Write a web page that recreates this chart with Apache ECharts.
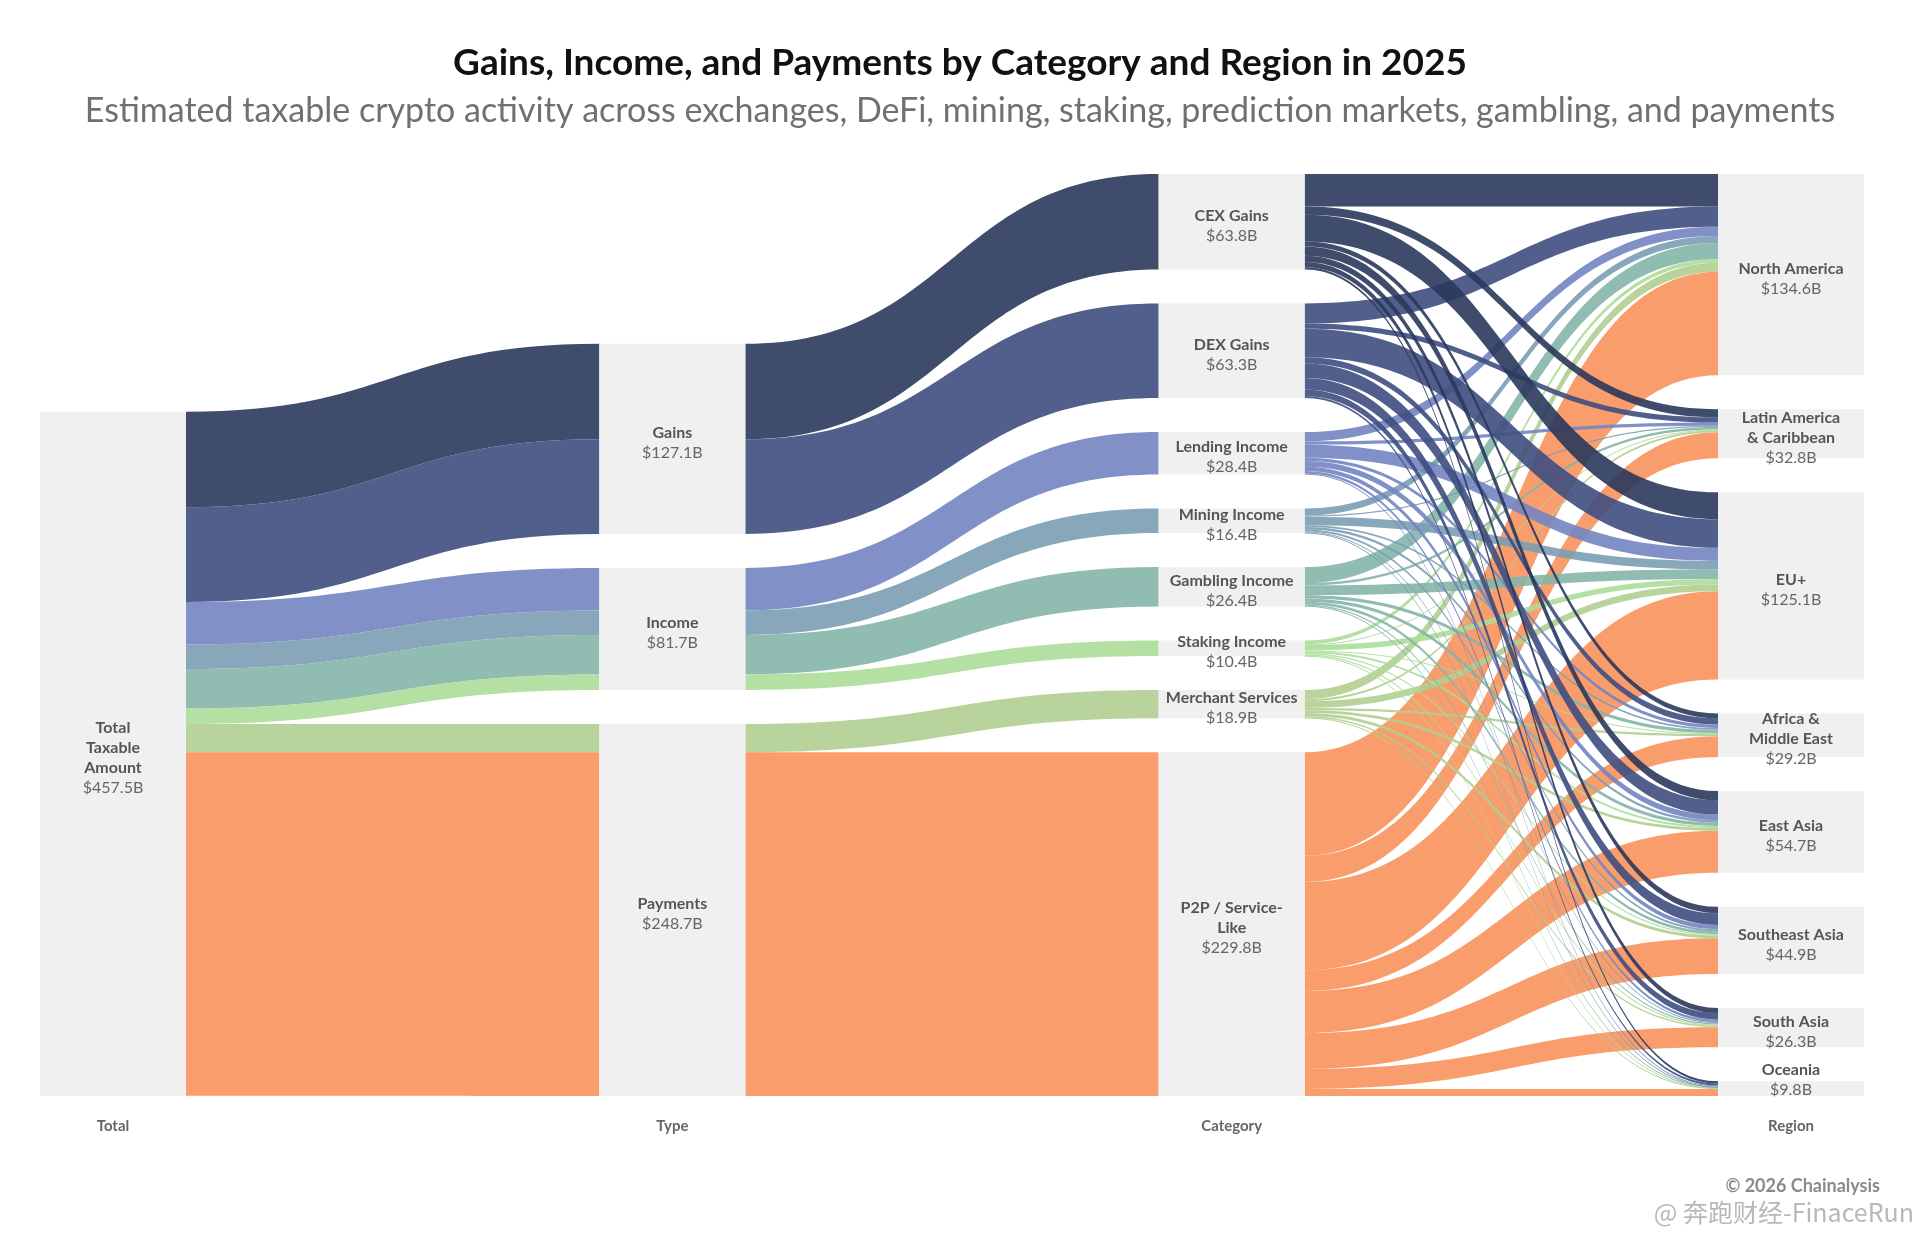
<!DOCTYPE html>
<html>
<head>
<meta charset="utf-8">
<title>Gains, Income, and Payments by Category and Region in 2025</title>
<script src="https://cdn.jsdelivr.net/npm/echarts@6/dist/echarts.min.js"></script>
<style>
  html, body { margin: 0; padding: 0; background: #fff; }
  #main { width: 1920px; height: 1234px; }
</style>
</head>
<body>
<div id="main"></div>
<script>
// --- data (values in $B) ---
const totalName = 'Total Taxable Amount';
const totalLabel = 'Total\nTaxable\nAmount';
const totalValue = 457.5;

const types = ['Gains', 'Income', 'Payments'];
const typeTotals = [127.1, 81.7, 248.7];

const categories = ['CEX Gains', 'DEX Gains', 'Lending Income', 'Mining Income',
    'Gambling Income', 'Staking Income', 'Merchant Services', 'P2P / Service-Like'];
const categoryLabels = ['CEX Gains', 'DEX Gains', 'Lending Income', 'Mining Income',
    'Gambling Income', 'Staking Income', 'Merchant Services', 'P2P / Service-\nLike'];
const categoryTotals = [63.8, 63.3, 28.4, 16.4, 26.4, 10.4, 18.9, 229.8];
const categoryType = ['Gains', 'Gains', 'Income', 'Income', 'Income', 'Income', 'Payments', 'Payments'];
// band colours (slightly deeper than seen, links are drawn at 0.9 opacity)
const categoryColors = ['#2b395c', '#3f4e80', '#7385c2', '#7b9db3', '#84b5a8', '#addd99', '#b0cf91', '#fa925c'];

const regions = ['North America', 'Latin America & Caribbean', 'EU+', 'Africa & Middle East',
    'East Asia', 'Southeast Asia', 'South Asia', 'Oceania'];
const regionLabels = ['North America', 'Latin America\n& Caribbean', 'EU+', 'Africa &\nMiddle East',
    'East Asia', 'Southeast Asia', 'South Asia', 'Oceania'];
const regionTotals = [134.6, 32.8, 125.1, 29.2, 54.7, 44.9, 26.3, 9.8];

// category -> region flows, one row per category, columns in region order
const cexFlows      = [21.8, 5.4, 18.0, 3.3, 6.1, 4.3, 3.4, 1.5];
const dexFlows      = [13.4, 3.5, 19.1, 4.2, 9.6, 7.8, 4.4, 1.3];
const lendingFlows  = [6.3, 2.1, 8.8, 2.2, 3.8, 2.9, 1.6, 0.7];
const miningFlows   = [4.6, 0.9, 5.6, 1.3, 1.6, 1.3, 0.8, 0.3];
const gamblingFlows = [10.7, 1.6, 6.5, 2.2, 2.2, 1.8, 0.9, 0.5];
const stakingFlows  = [2.5, 0.5, 3.6, 0.5, 1.4, 0.9, 0.7, 0.3];
const merchantFlows = [6.1, 1.3, 4.5, 1.6, 1.8, 2.0, 1.1, 0.5];
const p2pFlows      = [69.2, 17.5, 59.0, 13.9, 28.2, 23.9, 13.4, 4.7];
const flows = [cexFlows, dexFlows, lendingFlows, miningFlows, gamblingFlows, stakingFlows, merchantFlows, p2pFlows];

const columnTitles = ['Total', 'Type', 'Category', 'Region'];

// --- layout settings ---
const W = 1920, Hpage = 1234;
const boxLeft = 40, boxRight = 56, boxTop = 174, boxBottom = 138;
const nodeWidth = 146, nodeGap = 34;
const boxW = W - boxLeft - boxRight;
const boxH = Hpage - boxTop - boxBottom;

const sum = arr => arr.reduce((a, b) => a + b, 0);
// same scale the sankey layout uses (tightest column)
const ky = Math.min(
    (boxH - (categories.length - 1) * nodeGap) / sum(categoryTotals),
    (boxH - (regions.length - 1) * nodeGap) / sum(regionTotals)
);

const fmt = v => '$' + v.toFixed(1) + 'B';
const labelOf = (text, v) => text.split('\n').map(t => '{n|' + t + '}').join('\n') + '\n{v|' + fmt(v) + '}';

// Total and Type columns sit on the bottom edge
let nodes = [];
nodes.push({ name: totalName, value: totalValue, localY: (boxH - totalValue * ky) / boxH,
    label: { formatter: labelOf(totalLabel, totalValue) } });

let yCursor = boxH;
let typeY = [];
for (let i = types.length - 1; i >= 0; i--) {
    yCursor -= typeTotals[i] * ky;
    typeY[i] = yCursor / boxH;
    yCursor -= nodeGap;
}
types.forEach((t, i) => nodes.push({ name: t, value: typeTotals[i], localY: typeY[i],
    label: { formatter: labelOf(t, typeTotals[i]) } }));
categories.forEach((c, i) => nodes.push({ name: c, value: categoryTotals[i],
    label: { formatter: labelOf(categoryLabels[i], categoryTotals[i]) } }));
regions.forEach((r, i) => {
    let lab = { formatter: labelOf(regionLabels[i], regionTotals[i]) };
    // the last (thin) node keeps its label inside the plot
    if (i === regions.length - 1) lab.offset = [0, -9];
    nodes.push({ name: r, value: regionTotals[i], label: lab });
});

let links = [];
categories.forEach((c, i) => {
    links.push({ source: totalName, target: categoryType[i], value: categoryTotals[i],
        lineStyle: { color: categoryColors[i] } });
});
categories.forEach((c, i) => {
    links.push({ source: categoryType[i], target: c, value: categoryTotals[i],
        lineStyle: { color: categoryColors[i] } });
});
// bottom categories first so the darker bands are drawn on top
for (let i = categories.length - 1; i >= 0; i--) {
    regions.forEach((r, j) => {
        links.push({ source: categories[i], target: r, value: flows[i][j],
            lineStyle: { color: categoryColors[i] } });
    });
}

const step = (boxW - nodeWidth) / (columnTitles.length - 1);
const colText = columnTitles.map((t, d) => ({
    type: 'text',
    x: boxLeft + d * step + nodeWidth / 2,
    y: 1126,
    style: { text: t, fontSize: 15, fontWeight: 'bold', fontFamily: 'Lato', fill: '#666',
        align: 'center', verticalAlign: 'middle' }
}));

const chart = echarts.init(document.getElementById('main'));
chart.setOption({
    backgroundColor: '#ffffff',
    animation: false,
    title: {
        text: 'Gains, Income, and Payments by Category and Region in 2025',
        subtext: 'Estimated taxable crypto activity across exchanges, DeFi, mining, staking, prediction markets, gambling, and payments',
        left: 'center',
        top: 40,
        itemGap: 12,
        textStyle: { fontFamily: 'Lato', fontWeight: 'bold', fontSize: 37, color: '#111' },
        subtextStyle: { fontFamily: 'Lato', fontSize: 34, color: '#707070' }
    },
    graphic: colText.concat([
        { type: 'text', x: 1880, y: 1186,
          style: { text: '\u00A9 2026 Chainalysis', fontSize: 18, fontWeight: 'bold', fontFamily: 'Lato',
              fill: '#8a8a8a', align: 'right', verticalAlign: 'middle' } },
        { type: 'text', x: 1914, y: 1212,
          style: { text: '@ 奔跑财经-FinaceRun', fontSize: 25, fontFamily: 'Noto Sans CJK SC',
              fill: 'rgba(160,160,160,0.75)', align: 'right', verticalAlign: 'middle' } }
    ]),
    series: [{
        type: 'sankey',
        left: boxLeft, right: boxRight, top: boxTop, bottom: boxBottom,
        nodeWidth: nodeWidth,
        nodeGap: nodeGap,
        layoutIterations: 0,
        draggable: false,
        emphasis: { disabled: true },
        itemStyle: { color: '#f0f0f0', borderWidth: 0 },
        lineStyle: { curveness: 0.5, opacity: 0.9 },
        label: {
            position: 'inside',
            align: 'center',
            verticalAlign: 'middle',
            offset: [0, 4],
            fontFamily: 'Lato',
            rich: {
                n: { fontFamily: 'Lato', fontSize: 16, fontWeight: 'bold', color: '#555', lineHeight: 20, align: 'center' },
                v: { fontFamily: 'Lato', fontSize: 16, color: '#666', lineHeight: 20, align: 'center' }
            }
        },
        data: nodes,
        links: links
    }]
});
</script>
</body>
</html>
